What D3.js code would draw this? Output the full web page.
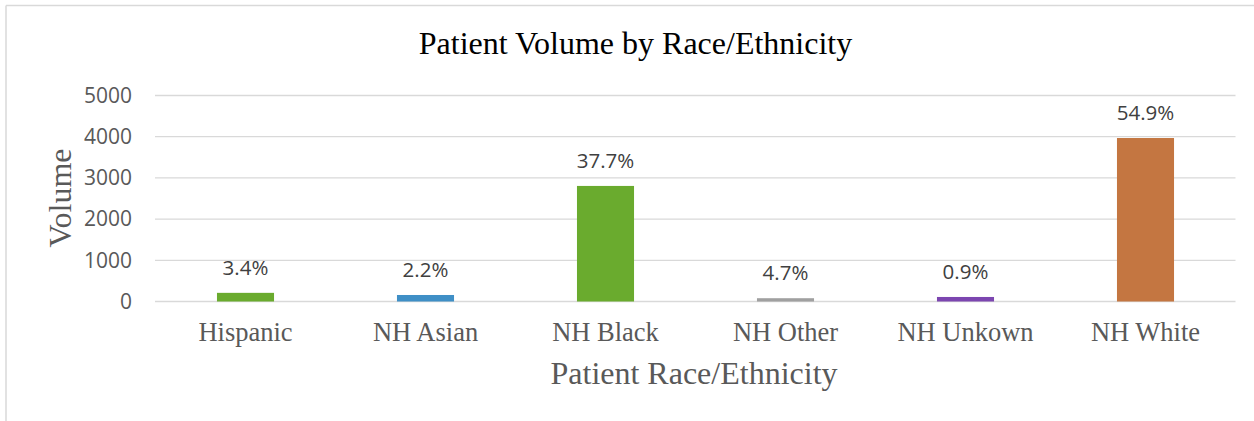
<!DOCTYPE html>
<html><head><meta charset="utf-8">
<script src="https://cdn.jsdelivr.net/npm/d3@7"></script>
<style>html,body{margin:0;padding:0;background:#fff;}svg{display:block;}</style>
</head><body>
<script>
const categories = ["Hispanic", "NH Asian", "NH Black", "NH Other", "NH Unkown", "NH White"];
const volumes = [210, 158, 2805, 80, 110, 3968];
const percentLabels = ["3.4%", "2.2%", "37.7%", "4.7%", "0.9%", "54.9%"];
const barColors = ["#6AAB2E", "#3F8FC6", "#6AAB2E", "#A0A0A0", "#7C46B0", "#C47641"];
const yTicks = [0, 1000, 2000, 3000, 4000, 5000];

const W = 1254, H = 421;
const svg = d3.select("body").append("svg").attr("width", W).attr("height", H);
svg.append("rect").attr("width", W).attr("height", H).attr("fill", "#fff");
// chart border (top & left visible)
svg.append("line").attr("x1", 6).attr("x2", W).attr("y1", 5.5).attr("y2", 5.5).attr("stroke", "#D9D9D9").attr("stroke-width", 1.5);
svg.append("line").attr("x1", 6).attr("x2", 6).attr("y1", 5.5).attr("y2", H).attr("stroke", "#D9D9D9").attr("stroke-width", 1.5);

const x = d3.scaleBand().domain(categories).range([155.5, 1235.5]).paddingInner(0.683).paddingOuter(0.3415);
const y = d3.scaleLinear().domain([0, 5000]).range([301.5, 95.5]);

const yAxis = d3.axisLeft(y).tickValues(yTicks).tickSize(0).tickPadding(23).tickFormat(d3.format("d"));
const gy = svg.append("g").attr("transform", "translate(155,0)").call(yAxis);
gy.select(".domain").remove();
gy.selectAll("text").attr("font-family", "'Open Sans', sans-serif").attr("font-size", 21).attr("fill", "#595959");

svg.append("g").selectAll("line").data(yTicks).join("line")
  .attr("x1", 155).attr("x2", 1235.5)
  .attr("y1", d => y(d)).attr("y2", d => y(d))
  .attr("stroke", "#D9D9D9").attr("stroke-width", 1.3);

svg.append("g").selectAll("rect").data(categories).join("rect")
  .attr("x", d => x(d)).attr("width", x.bandwidth())
  .attr("y", (d, i) => y(volumes[i])).attr("height", (d, i) => y(0) - y(volumes[i]))
  .attr("fill", (d, i) => barColors[i]);

svg.append("g").selectAll("text").data(categories).join("text")
  .attr("x", d => x(d) + x.bandwidth() / 2)
  .attr("y", (d, i) => y(volumes[i]) - 18)
  .attr("text-anchor", "middle")
  .attr("font-family", "'Open Sans', sans-serif").attr("font-size", 20.5).attr("fill", "#404040")
  .text((d, i) => percentLabels[i]);

const xAxis = d3.axisBottom(x).tickSize(0).tickPadding(0);
const gx = svg.append("g").attr("transform", "translate(0,301.5)").call(xAxis);
gx.select(".domain").remove();
gx.selectAll("text").attr("dy", null).attr("y", 39.2)
  .attr("font-family", "'Liberation Serif', 'Times New Roman', serif").attr("font-size", 26.5).attr("fill", "#595959");

svg.append("text").attr("x", 635.5).attr("y", 54.3).attr("text-anchor", "middle")
  .attr("font-family", "'Liberation Serif', 'Times New Roman', serif").attr("font-size", 32).attr("fill", "#000")
  .text("Patient Volume by Race/Ethnicity");

svg.append("text").attr("x", 694).attr("y", 384).attr("text-anchor", "middle")
  .attr("font-family", "'Liberation Serif', 'Times New Roman', serif").attr("font-size", 32).attr("fill", "#595959")
  .text("Patient Race/Ethnicity");

svg.append("text").attr("transform", "translate(71,198) rotate(-90)").attr("text-anchor", "middle")
  .attr("font-family", "'Liberation Serif', 'Times New Roman', serif").attr("font-size", 32).attr("fill", "#595959")
  .text("Volume");
</script>
</body></html>
